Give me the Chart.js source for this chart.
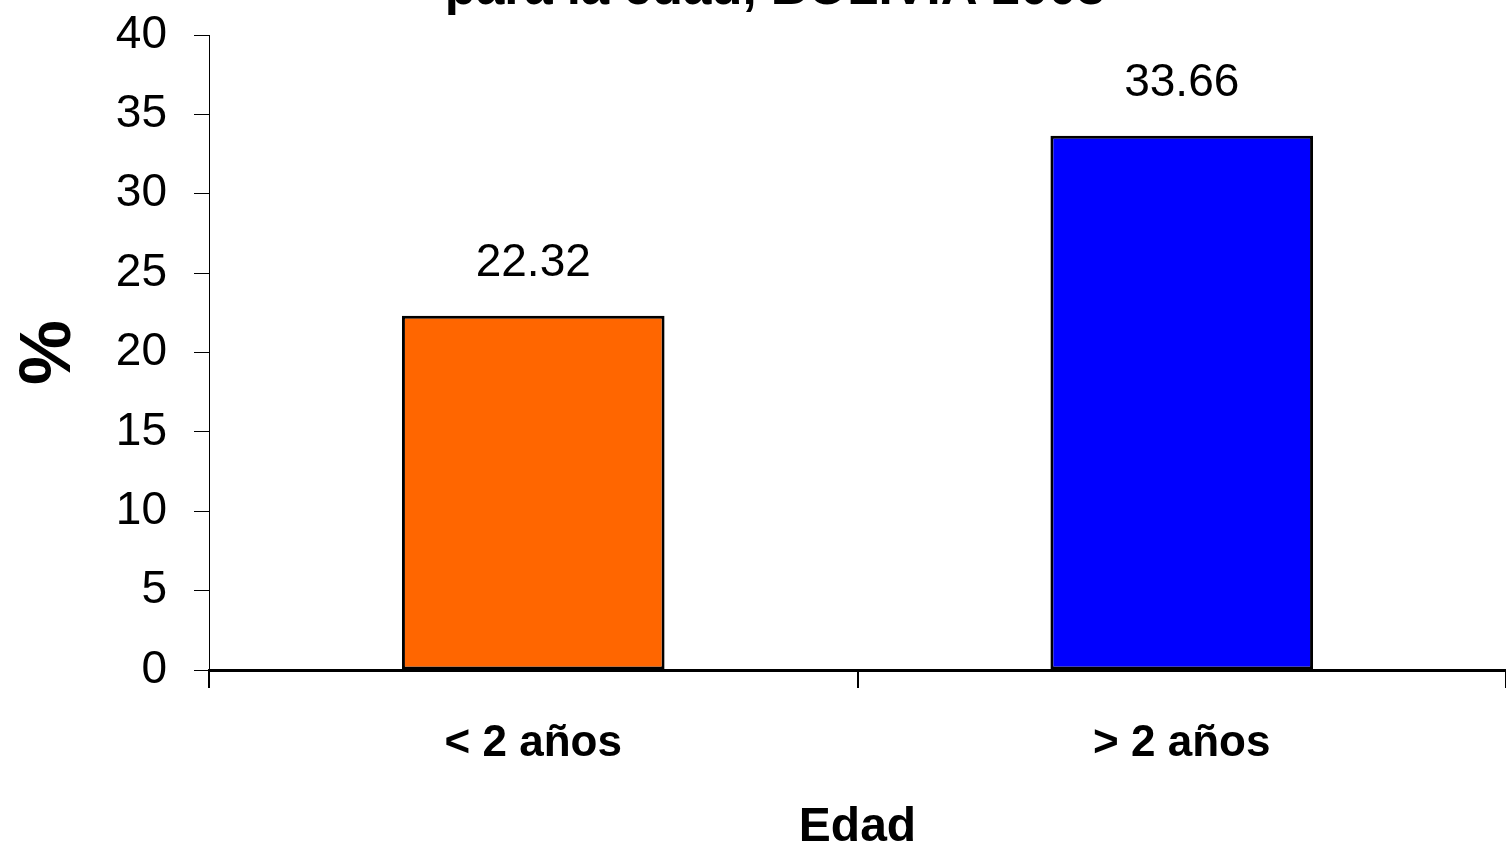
<!DOCTYPE html>
<html>
<head>
<meta charset="utf-8">
<script src="https://cdn.jsdelivr.net/npm/chart.js@4/dist/chart.umd.min.js"></script>
<style>
  html, body { margin: 0; padding: 0; background: #ffffff; }
  #wrap { width: 1506px; height: 853px; position: relative; }
</style>
</head>
<body>
<div id="wrap"><canvas id="c"></canvas></div>
<script>
const categories = ['< 2 años', '> 2 años'];
const values = [22.32, 33.66];
const barColors = ['#FF6600', '#0000FF'];
const yTicks = [0, 5, 10, 15, 20, 25, 30, 35, 40];
const titleText = 'para la edad, BOLIVIA 2003';
const yTitle = '%';
const xTitle = 'Edad';

const FONT = "'Liberation Sans', Arial, sans-serif";

const topTitlePlugin = {
  id: 'topTitle',
  afterDraw(chart) {
    const ctx = chart.ctx;
    ctx.save();
    ctx.font = 'bold 51px ' + FONT;
    ctx.fillStyle = '#000';
    ctx.textAlign = 'center';
    ctx.textBaseline = 'alphabetic';
    ctx.fillText(titleText, 775, 4);
    ctx.restore();
  }
};

const valueLabelPlugin = {
  id: 'valueLabels',
  afterDatasetsDraw(chart) {
    const ctx = chart.ctx;
    const meta = chart.getDatasetMeta(0);
    ctx.save();
    ctx.font = '46px ' + FONT;
    ctx.fillStyle = '#000';
    ctx.textAlign = 'center';
    ctx.textBaseline = 'alphabetic';
    meta.data.forEach((bar, i) => {
      ctx.fillText(values[i].toFixed(2), bar.x, bar.y - 40);
    });
    ctx.restore();
  }
};

new Chart(document.getElementById('c'), {
  type: 'bar',
  data: {
    labels: categories,
    datasets: [{
      data: values,
      backgroundColor: barColors,
      borderColor: '#000000',
      borderWidth: 3,
      borderSkipped: false,
      categoryPercentage: 1,
      barPercentage: 0.405
    }]
  },
  options: {
    responsive: true,
    maintainAspectRatio: false,
    animation: false,
    layout: { padding: { top: 35, left: 0, right: 0, bottom: 0 } },
    plugins: {
      legend: { display: false },
      tooltip: { enabled: false },
      title: { display: false }
    },
    scales: {
      x: {
        afterFit(scale) {
          scale.height = 183;
          scale.paddingLeft = 0;
          scale.paddingRight = 0;
        },
        grid: {
          display: true,
          drawOnChartArea: false,
          drawTicks: true,
          tickLength: 18,
          color: '#000',
          lineWidth: 2,
          offset: true
        },
        border: { display: true, color: '#000', width: 3 },
        ticks: {
          color: '#000',
          font: { family: FONT, size: 44, weight: 'bold' },
          padding: 29
        },
        title: {
          display: true,
          text: xTitle,
          color: '#000',
          font: { family: FONT, size: 48, weight: 'bold', lineHeight: 1 },
          padding: { top: 0, bottom: 1 }
        }
      },
      y: {
        min: 0,
        max: 40,
        afterFit(scale) {
          scale.width = 209;
          scale.paddingTop = 0;
          scale.paddingBottom = 0;
        },
        afterBuildTicks(scale) { scale.ticks = yTicks.map(v => ({ value: v })); },
        grid: {
          display: true,
          drawOnChartArea: false,
          drawTicks: true,
          tickLength: 15,
          color: '#000',
          lineWidth: 1
        },
        border: { display: true, color: '#000', width: 1 },
        ticks: {
          color: '#000',
          font: { family: FONT, size: 46 },
          padding: 27
        },
        title: {
          display: true,
          text: yTitle,
          color: '#000',
          font: { family: FONT, size: 73, weight: 'bold', lineHeight: 1.2 },
          padding: { top: 6, bottom: 0 }
        }
      }
    }
  },
  plugins: [topTitlePlugin, valueLabelPlugin]
});
</script>
</body>
</html>
